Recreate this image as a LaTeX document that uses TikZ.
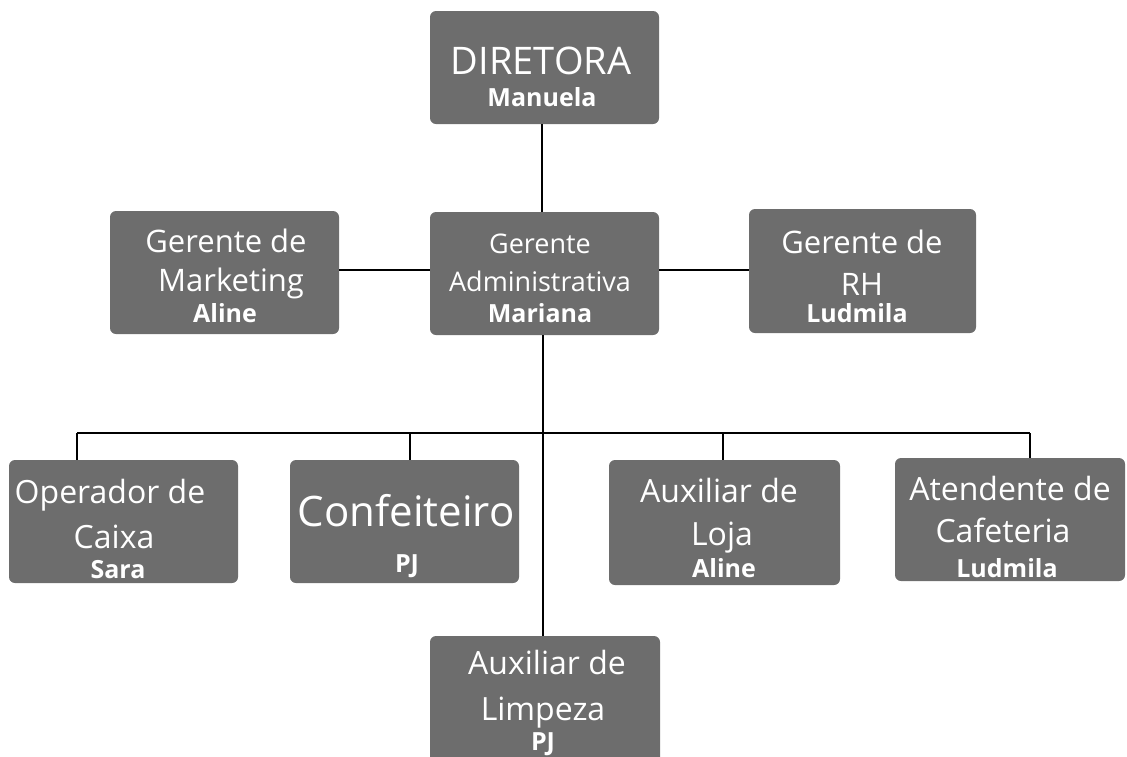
\documentclass[tikz,border=0pt]{standalone}
\usepackage{fontspec}
\setmainfont{Open Sans}
\definecolor{boxgray}{HTML}{6D6D6D}
\tikzset{
  box/.style={fill=boxgray, draw=none, rounded corners=6pt, inner sep=0pt},
  link/.style={draw=black, line width=1.8pt},
  t/.style={text=white, anchor=base, inner sep=0pt, font=\fontsize{#1}{#1}\selectfont},
  tb/.style={text=white, anchor=base, inner sep=0pt, font=\fontsize{#1}{#1}\selectfont\bfseries},
}
\begin{document}
\begin{tikzpicture}[x=1pt,y=-1pt]
\useasboundingbox (0,0) rectangle (1127,756);
% boxes
\node[box, minimum width=229pt, minimum height=113pt] (dir) at (544.5,67.5) {};
\node[box, minimum width=229pt, minimum height=123pt] (mkt) at (224.5,272.5) {};
\node[box, minimum width=229pt, minimum height=123pt] (adm) at (544.5,273.5) {};
\node[box, minimum width=227pt, minimum height=124pt] (rh) at (862.5,271) {};
\node[box, minimum width=229pt, minimum height=123pt] (cx) at (123.5,521.5) {};
\node[box, minimum width=229pt, minimum height=123pt] (conf) at (404.5,521.5) {};
\node[box, minimum width=231pt, minimum height=125pt] (loja) at (724.5,522.5) {};
\node[box, minimum width=230pt, minimum height=123pt] (cafe) at (1010,519.5) {};
\node[box, minimum width=230pt, minimum height=136pt] (limp) at (545,704) {};
% connectors
\coordinate (bus) at (543,433);
\coordinate (busL) at (77,433);
\coordinate (busR) at (1030,433);
\draw[link] (dir.south -| 542,0) -- (adm.north -| 542,0);
\draw[link] (mkt.east |- 0,270) -- (adm.west |- 0,270);
\draw[link] (adm.east |- 0,270) -- (rh.west |- 0,270);
\draw[link] (adm.south -| bus) -- (limp.north -| bus);
\draw[link] (busL) -- (busR);
\draw[link] (busL) -- (cx.north -| busL);
\draw[link] (410,433) -- (conf.north -| 410,0);
\draw[link] (723,433) -- (loja.north -| 723,0);
\draw[link] (busR) -- (cafe.north -| busR);
% texts
\node[t=38] (dir1) at (541,74) {DIRETORA};
\node[tb=25] (dir2) at (542,106) {Manuela};
\node[t=31] (mkt1) at (226,252) {Gerente de};
\node[t=31] (mkt2) at (231,291) {Marketing};
\node[tb=25] (mkt3) at (225,322) {Aline};
\node[t=27] (adm1) at (540,253) {Gerente};
\node[t=27] (adm2) at (540,291) {Administrativa};
\node[tb=25] (adm3) at (540,322) {Mariana};
\node[t=31] (rh1) at (862,253) {Gerente de};
\node[t=31] (rh2) at (862,295) {RH};
\node[tb=25] (rh3) at (857,322) {Ludmila};
\node[t=32] (cx1) at (110,503) {Operador de};
\node[t=32] (cx2) at (114,548) {Caixa};
\node[tb=25] (cx3) at (118,578) {Sara};
\node[t=42] (conf1) at (406,526) {Confeiteiro};
\node[tb=25] (conf2) at (407,572) {PJ};
\node[t=32] (loja1) at (719,502) {Auxiliar de};
\node[t=32] (loja2) at (722,545) {Loja};
\node[tb=25] (loja3) at (724,577) {Aline};
\node[t=32] (cafe1) at (1010,500) {Atendente de};
\node[t=32] (cafe2) at (1003,542) {Cafeteria};
\node[tb=25] (cafe3) at (1007,577) {Ludmila};
\node[t=32] (limp1) at (547,674) {Auxiliar de};
\node[t=32] (limp2) at (543,720) {Limpeza};
\node[tb=25] (limp3) at (543,750) {PJ};
\end{tikzpicture}
\end{document}
